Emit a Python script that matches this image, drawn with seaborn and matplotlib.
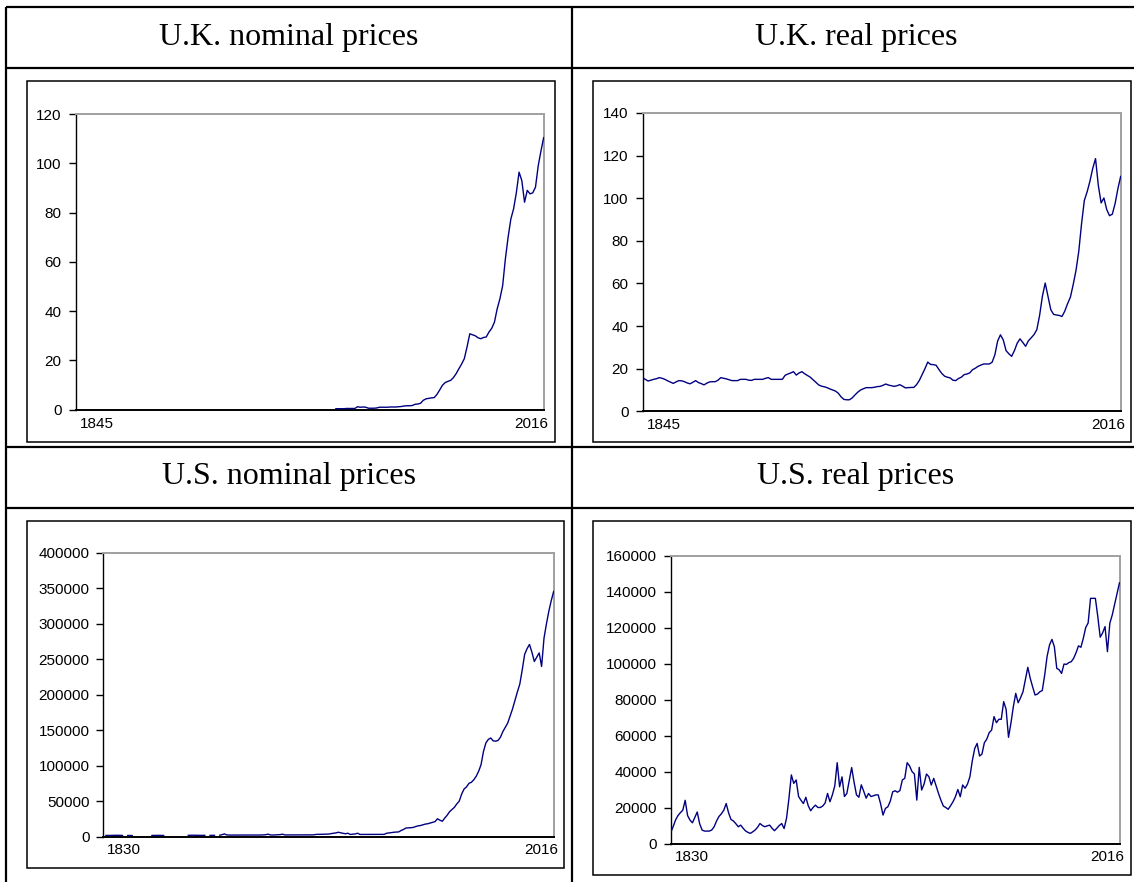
import numpy as np
import pandas as pd
import matplotlib
matplotlib.use("Agg")
import matplotlib.pyplot as plt
import seaborn as sns
from matplotlib.lines import Line2D
from matplotlib.patches import Rectangle
from matplotlib.ticker import FuncFormatter
from matplotlib.transforms import ScaledTranslation

# ---------------------------------------------------------------- data
nan = np.nan

uk_years = (1845, 2016)
us_years = (1830, 2016)

# U.K. nominal house prices, available from 1940
uk_nominal_first = 1940
uk_nominal = [
    0.4, 0.4, 0.4, 0.4, 0.5, 0.5, 0.5, 0.5, 1.2, 1.0,          # 1940s
    1.1, 1.0, 0.6, 0.6, 0.6, 0.7, 1.0, 1.0, 1.0, 1.0,          # 1950s
    1.1, 1.1, 1.1, 1.2, 1.3, 1.5, 1.6, 1.6, 1.7, 2.2,          # 1960s
    2.3, 2.6, 3.8, 4.4, 4.6, 4.8, 4.9, 6.2, 8.0, 9.9,          # 1970s
    11.0, 11.5, 11.9, 13.0, 14.6, 16.6, 18.5, 20.7, 25.5, 30.8,  # 1980s
    30.4, 30.0, 29.2, 28.8, 29.3, 29.5, 31.5, 33.0, 35.5, 40.9,  # 1990s
    45.0, 50.3, 61.2, 70.0, 77.4, 81.5, 88.0, 96.4, 93.0, 84.2,  # 2000s
    89.0, 87.6, 88.0, 90.3, 99.0, 105.0, 110.5,                  # 2010-2016
]

# U.K. real house prices, 1845-2016
uk_real = [
    15.8, 15.0, 14.2, 14.6, 15.0,                                # 1845-1849
    15.3, 15.8, 15.5, 15.0, 14.3, 13.7, 13.1, 13.8, 14.4, 14.3,  # 1850s
    13.9, 13.3, 12.9, 13.6, 14.4, 13.5, 13.0, 12.4, 13.2, 13.8,  # 1860s
    13.9, 13.9, 14.6, 15.8, 15.5, 15.2, 14.8, 14.4, 14.4, 14.4,  # 1870s
    15.0, 15.0, 15.0, 14.6, 14.5, 15.0, 15.0, 15.0, 15.0, 15.5,  # 1880s
    15.8, 15.0, 15.0, 15.0, 15.0, 15.0, 16.9, 17.5, 18.0, 18.6,  # 1890s
    17.0, 18.0, 18.6, 17.6, 16.8, 16.0, 14.8, 13.6, 12.4, 11.8,  # 1900s
    11.5, 11.1, 10.5, 10.0, 9.5, 8.5, 6.8, 5.6, 5.4, 5.4,        # 1910s
    6.3, 7.7, 9.0, 10.0, 10.6, 11.1, 11.1, 11.1, 11.3, 11.6,     # 1920s
    11.7, 12.2, 12.8, 12.3, 12.0, 11.7, 12.0, 12.5, 11.8, 11.0,  # 1930s
    11.1, 11.2, 11.2, 12.5, 14.5, 17.2, 20.0, 23.1, 22.0, 21.9,  # 1940s
    21.6, 19.6, 17.8, 16.5, 16.0, 15.7, 14.6, 14.4, 15.4, 16.0,  # 1950s
    17.2, 17.5, 18.0, 19.5, 20.2, 21.1, 21.7, 22.2, 22.2, 22.2,  # 1960s
    23.0, 26.5, 33.0, 35.9, 33.5, 28.5, 27.0, 25.8, 28.5, 32.0,  # 1970s
    34.0, 32.3, 30.5, 33.1, 34.5, 36.0, 38.3, 45.0, 54.0, 60.2,  # 1980s
    54.0, 47.7, 45.5, 45.2, 45.0, 44.5, 47.0, 50.5, 53.5, 59.4,  # 1990s
    66.0, 75.0, 88.0, 99.0, 103.0, 108.0, 114.0, 118.6, 106.0, 97.8,  # 2000s
    100.1, 94.7, 91.8, 92.5, 97.5, 104.5, 110.3,                 # 2010-2016
]

# U.S. nominal house prices, 1830-2016 (gaps where no observation exists)
us_nominal = [
    nan, 1600, 1500, 1500, 1600, 1700, 1700, 1600, 1500, nan,            # 1830s
    1500, 1400, 1400, nan, nan, nan, nan, nan, nan, nan,                 # 1840s
    1500, 1500, 1600, 1600, 1500, 1500, nan, nan, nan, nan,              # 1850s
    nan, nan, nan, nan, nan, 1700, 1700, 1800, 1700, 1700,              # 1860s
    1600, 1600, 1700, nan, 1600, 1600, 1700, nan, 1800, 2500,            # 1870s
    3700, 2200, 2000, 2000, 2000, 2100, 2000, 2000, 2000, 2000,          # 1880s
    2000, 2000, 2000, 2000, 2000, 2100, 2200, 2500, 3300, 2200,          # 1890s
    2100, 2200, 2500, 2600, 3300, 2200, 2200, 2200, 2200, 2200,          # 1900s
    2200, 2200, 2300, 2300, 2300, 2300, 2300, 2400, 3000, 3000,          # 1910s
    3100, 3200, 3300, 3400, 4000, 4600, 5000, 6000, 5200, 4500,          # 1920s
    3900, 4600, 2900, 3200, 3600, 4600, 2900, 2900, 3000, 3000,          # 1930s
    3000, 3000, 3000, 3000, 3000, 3000, 3000, 4600, 5000, 5500,          # 1940s
    6000, 6200, 6500, 8500, 10000, 12000, 12200, 12400, 12800, 14000,    # 1950s
    15000, 15500, 16500, 17500, 18000, 19000, 20000, 21000, 25000, 23000,  # 1960s
    21500, 26000, 30000, 35000, 38000, 41200, 46000, 50000, 60000, 67000,  # 1970s
    70000, 75000, 76500, 80000, 85000, 92000, 101400, 120000, 132000, 137000,  # 1980s
    139000, 135000, 134500, 135500, 140000, 148000, 154000, 160000, 170000, 180000,  # 1990s
    192000, 204000, 215000, 235000, 257000, 265000, 271000, 260000, 247000, 253000,  # 2000s
    259000, 240000, 280000, 300000, 318000, 333000, 346000,              # 2010-2016
]

# U.S. real house prices, 1830-2016
us_real = [
    6000, 9300, 13000, 15500, 17100, 18500, 24000, 15500, 13000, 11500,     # 1830s
    14500, 17500, 11000, 7500, 6900, 6900, 6900, 7500, 9300, 12500,         # 1840s
    15000, 16500, 18500, 22200, 17000, 13300, 12500, 11000, 9300, 10200,    # 1850s
    8500, 7000, 6200, 5600, 6500, 7500, 9000, 11100, 10000, 9300,           # 1860s
    9800, 10200, 8500, 7100, 8500, 10000, 11100, 8300, 14000, 25000,        # 1870s
    38100, 33400, 35300, 26100, 24000, 22200, 25700, 21000, 18200, 20000,   # 1880s
    21300, 20000, 20000, 20800, 22500, 27800, 23200, 27000, 32000, 44900,   # 1890s
    31500, 37000, 26100, 27800, 35000, 42200, 34000, 27000, 25700, 32600,   # 1900s
    29000, 25200, 27800, 26100, 26500, 27000, 27000, 22000, 15800, 19500,   # 1910s
    20400, 23500, 28700, 29300, 28500, 29400, 35300, 36200, 44900, 43100,   # 1920s
    40000, 38600, 24100, 42300, 29700, 33000, 38600, 37100, 32500, 36200,   # 1930s
    32000, 27800, 24000, 20800, 20000, 19000, 21000, 23200, 26000, 30000,   # 1940s
    26000, 32500, 30700, 33000, 37100, 46000, 52800, 55600, 48600, 49700,   # 1950s
    56000, 58000, 61600, 63000, 70500, 67100, 69000, 69000, 78800, 74600,   # 1960s
    59000, 66800, 76000, 83400, 78200, 81000, 84300, 91000, 97900, 91800,   # 1970s
    87000, 82500, 83000, 84300, 85000, 93600, 104000, 110300, 113400, 109300,  # 1980s
    97300, 96500, 94500, 99700, 99500, 100500, 101000, 102900, 106000, 109800,  # 1990s
    109000, 114000, 120000, 122500, 136200, 136200, 136200, 126100, 114600, 117000,  # 2000s
    120500, 106600, 122400, 127000, 133000, 139000, 144900,                 # 2010-2016
]

titles = ["U.K. nominal prices", "U.K. real prices",
          "U.S. nominal prices", "U.S. real prices"]

# ---------------------------------------------------------------- figure
W, H, DPI = 1134, 882, 100
sns.set_style("white")
plt.rcParams["font.family"] = ["Liberation Sans Narrow", "Liberation Sans", "DejaVu Sans"]

fig = plt.figure(figsize=(W / DPI, H / DPI), dpi=DPI, facecolor="white")

LINE_COLOR = "#000080"
TICK_SIZE = 11


def fx(x):
    return x / W


def fy(y):
    return 1 - y / H


def hline(y, x0, x1, lw=1.6):
    fig.add_artist(Line2D([fx(x0), fx(x1)], [fy(y), fy(y)],
                          transform=fig.transFigure, color="black", lw=lw,
                          solid_capstyle="butt"))


def vline(x, y0, y1, lw=1.6):
    fig.add_artist(Line2D([fx(x), fx(x)], [fy(y0), fy(y1)],
                          transform=fig.transFigure, color="black", lw=lw,
                          solid_capstyle="butt"))


def frame(x0, y0, x1, y1):
    fig.add_artist(Rectangle((fx(x0), fy(y1)), fx(x1 - x0), (y1 - y0) / H,
                             transform=fig.transFigure, fill=False,
                             edgecolor="black", lw=1.1))


def series_frame(first_year, values):
    years = np.arange(first_year, first_year + len(values))
    df = pd.DataFrame({"year": years, "value": np.asarray(values, float)})
    # consecutive runs of observations become separate line segments
    df["segment"] = df["value"].isna().cumsum()
    return df.dropna()


def shift_label(lbl, dx_px):
    lbl.set_transform(lbl.get_transform()
                      + ScaledTranslation(dx_px / DPI, 0, fig.dpi_scale_trans))


def chart(box, plot, df, xspan, ymax, ystep):
    frame(*box)
    left, top, right, bottom = plot
    ax = fig.add_axes([fx(left), fy(bottom), fx(right - left), (bottom - top) / H])
    sns.lineplot(data=df, x="year", y="value", units="segment", estimator=None,
                 color=LINE_COLOR, linewidth=1.0, ax=ax, zorder=3)
    ax.set_xlim(*xspan)
    ax.set_ylim(0, ymax)
    ax.set_xlabel("")
    ax.set_ylabel("")
    ax.set_yticks(np.arange(0, ymax + ystep, ystep))
    ax.yaxis.set_major_formatter(FuncFormatter(lambda v, p: f"{int(round(v))}"))
    ax.set_xticks(list(xspan))
    ax.set_xticklabels([str(xspan[0]), str(xspan[1])])
    ax.tick_params(axis="x", length=0, pad=5, labelsize=TICK_SIZE, colors="black")
    ax.tick_params(axis="y", length=5, width=1.0, direction="out", pad=5,
                   labelsize=TICK_SIZE, colors="black", left=True)
    lbls = ax.get_xticklabels()
    lbls[0].set_horizontalalignment("left")
    lbls[-1].set_horizontalalignment("right")
    shift_label(lbls[0], 4)
    shift_label(lbls[-1], 5)
    for side in ("left", "bottom"):
        ax.spines[side].set_color("black")
    ax.spines["left"].set_linewidth(1.0)
    ax.spines["bottom"].set_linewidth(1.4)
    for side in ("top", "right"):
        ax.spines[side].set_color("#a0a0a0")
        ax.spines[side].set_linewidth(1.4)
    ax.set_facecolor("white")
    ax.grid(False)
    return ax


# table grid
hline(7, 6, W)
hline(68, 6, W)
hline(447, 6, W)
hline(508, 6, W)
vline(6, 7, H)
vline(572, 7, H)

# cell headings
title_kw = dict(ha="center", va="baseline", fontsize=23,
                family=["Liberation Serif", "DejaVu Serif"], color="black")
fig.text(fx(289), fy(45), titles[0], **title_kw)
fig.text(fx(856), fy(45), titles[1], **title_kw)
fig.text(fx(289), fy(484), titles[2], **title_kw)
fig.text(fx(856), fy(484), titles[3], **title_kw)

chart((27, 81, 555, 442), (75.6, 114, 543.7, 409.7),
      series_frame(uk_nominal_first, uk_nominal), uk_years, 120, 20)
chart((593, 81, 1131, 442), (642.5, 113, 1120.7, 411.3),
      series_frame(uk_years[0], uk_real), uk_years, 140, 20)
chart((27, 521, 564, 868), (103.3, 553, 553.7, 836.5),
      series_frame(us_years[0], us_nominal), us_years, 400000, 50000)
chart((593, 521, 1131, 875), (670.7, 555.5, 1119.5, 843.5),
      series_frame(us_years[0], us_real), us_years, 160000, 20000)

fig.savefig("out.png", dpi=DPI, facecolor="white")
